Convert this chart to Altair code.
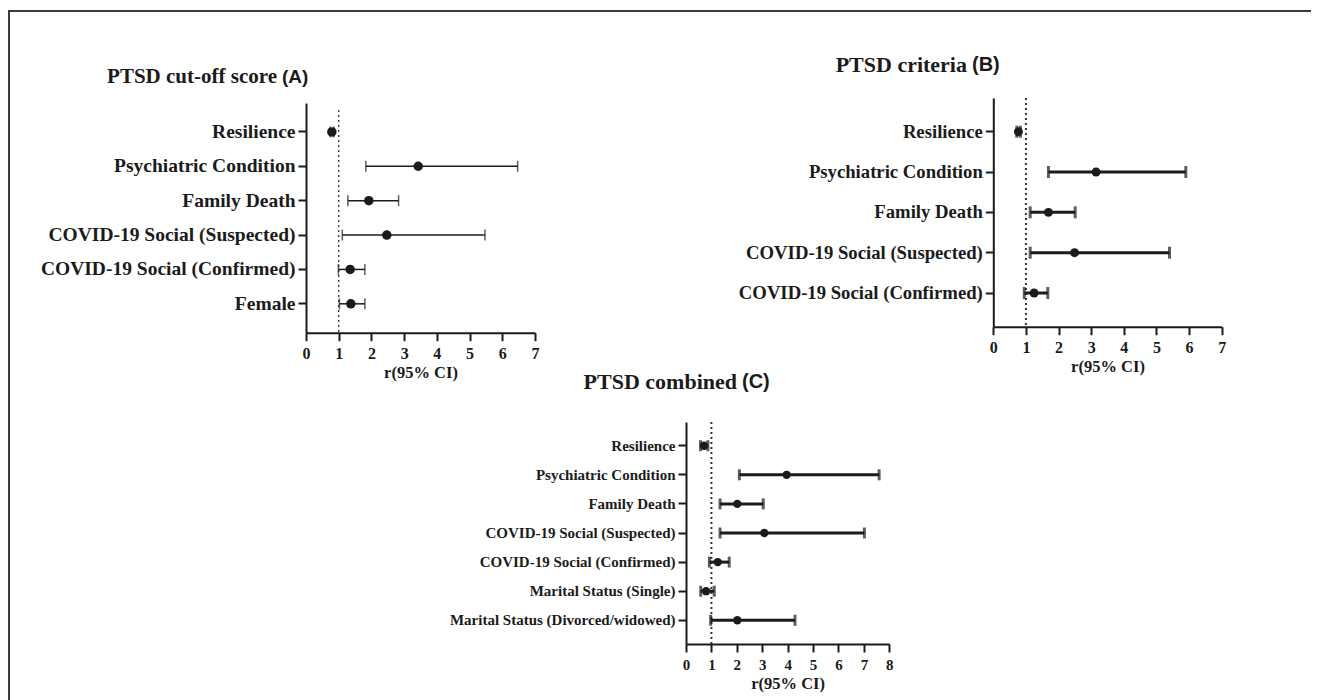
import altair as alt
import pandas as pd

# ---------------- data ----------------
a_labels = ["Resilience", "Psychiatric Condition", "Family Death",
            "COVID-19 Social (Suspected)", "COVID-19 Social (Confirmed)", "Female"]
a_or = [0.79, 3.43, 1.92, 2.47, 1.35, 1.37]
a_lo = [0.74, 1.83, 1.28, 1.11, 0.99, 1.02]
a_hi = [0.85, 6.47, 2.83, 5.47, 1.80, 1.80]

b_labels = ["Resilience", "Psychiatric Condition", "Family Death",
            "COVID-19 Social (Suspected)", "COVID-19 Social (Confirmed)"]
b_or = [0.77, 3.15, 1.69, 2.49, 1.25]
b_lo = [0.72, 1.69, 1.13, 1.13, 0.95]
b_hi = [0.83, 5.90, 2.51, 5.40, 1.67]

c_labels = ["Resilience", "Psychiatric Condition", "Family Death",
            "COVID-19 Social (Suspected)", "COVID-19 Social (Confirmed)",
            "Marital Status (Single)", "Marital Status (Divorced/widowed)"]
c_or = [0.71, 3.96, 2.02, 3.08, 1.25, 0.79, 2.02]
c_lo = [0.57, 2.10, 1.34, 1.34, 0.92, 0.58, 0.97]
c_hi = [0.86, 7.60, 3.04, 7.02, 1.70, 1.11, 4.29]

titles = ["PTSD cut-off score", "PTSD criteria", "PTSD combined"]
title_tags = ["(A)", "(B)", "(C)"]
x_title = "r(95% CI)"

SERIF = "Liberation Serif"
SANS = "Liberation Sans"
INK = "#1b1b1b"

W, H = 1303, 689

PAD_LABEL = "datum.label == 'Psychiatric Condition' ? datum.label + '\u00a0\u00a0' : datum.label"


def panel(labels, orv, lo, hi, xmax, xrange, yrange, ypad, x_off, y_off,
          label_size, tick_label_size, bar_w, cap, dot, dot_top, dash_w, pad_expr=None):
    df = pd.DataFrame({"label": labels, "or": orv, "lo": lo, "hi": hi})
    ref = pd.DataFrame({"ref": [1.0]})
    xscale = alt.Scale(domain=[0, xmax], range=xrange, nice=False, zero=True)
    xaxis = alt.Axis(orient="bottom", offset=x_off, values=list(range(xmax + 1)),
                     format="d", grid=False, labelFont=SERIF, labelFontWeight="bold",
                     labelFontSize=tick_label_size, labelColor=INK, labelPadding=5,
                     labelFlush=False, labelOverlap=False,
                     domainColor=INK, domainWidth=2, tickColor=INK, tickWidth=2,
                     tickSize=8, title=x_title, titleFont=SERIF, titleFontWeight="bold",
                     titleFontSize=16.5, titleColor=INK, titlePadding=3)
    yargs = dict(orient="left", offset=y_off, grid=False, title=None,
                 labelFont=SERIF, labelFontWeight="bold", labelFontSize=label_size,
                 labelColor=INK, labelPadding=3, labelLimit=500,
                 domainColor=INK, domainWidth=2, tickColor=INK, tickWidth=2,
                 tickSize=8)
    if pad_expr:
        yargs["labelExpr"] = pad_expr
    yaxis = alt.Axis(**yargs)
    yenc = alt.Y("label:N", sort=labels,
                 scale=alt.Scale(range=yrange, padding=ypad), axis=yaxis)
    base = alt.Chart(df)
    bars = base.mark_rule(color=INK, strokeWidth=bar_w).encode(
        x=alt.X("lo:Q", scale=xscale, axis=xaxis), x2="hi:Q", y=yenc)
    caps_lo = base.mark_tick(color=INK, thickness=bar_w, size=cap).encode(
        x=alt.X("lo:Q", scale=xscale, axis=xaxis), y=yenc)
    caps_hi = base.mark_tick(color=INK, thickness=bar_w, size=cap).encode(
        x=alt.X("hi:Q", scale=xscale, axis=xaxis), y=yenc)
    dots = base.mark_circle(color=INK, opacity=1, size=dot).encode(
        x=alt.X("or:Q", scale=xscale, axis=xaxis), y=yenc)
    refline = alt.Chart(ref).mark_rule(color="#333", strokeWidth=dash_w,
                                       strokeDash=[2, 3]).encode(
        x=alt.X("ref:Q", scale=xscale, axis=xaxis),
        y=alt.value(dot_top), y2=alt.value(yrange[1]))
    return alt.layer(refline, bars, caps_lo, caps_hi, dots)


def title_marks(i, x_split, y, size=22):
    d = pd.DataFrame({"t": [titles[i]], "tag": [title_tags[i]]})
    main = alt.Chart(d).mark_text(font=SERIF, fontWeight="bold", fontSize=size,
                                  align="right", baseline="middle", color=INK).encode(
        x=alt.value(x_split - 5), y=alt.value(y), text="t:N")
    tag = alt.Chart(d).mark_text(font=SANS, fontWeight="bold", fontSize=size - 2,
                                 align="left", baseline="middle", color=INK).encode(
        x=alt.value(x_split), y=alt.value(y), text="tag:N")
    return [main, tag]


frame_df = pd.DataFrame({"k": [0]})
frame_top = alt.Chart(frame_df).mark_rule(color="#3a3a3a", strokeWidth=2).encode(
    x=alt.value(0), x2=alt.value(W), y=alt.value(0))
frame_left = alt.Chart(frame_df).mark_rule(color="#3a3a3a", strokeWidth=2).encode(
    x=alt.value(1), y=alt.value(0), y2=alt.value(H))

pA = panel(a_labels, a_or, a_lo, a_hi, 7, [298, 527], [92, 321.7], 0.68,
           321.7 - H, -298, 19.5, 16, 1.5, 11, 90, 99, 1.3, PAD_LABEL)
pB = panel(b_labels, b_or, b_lo, b_hi, 7, [985.3, 1213.7], [87, 315.7], 0.67,
           315.7 - H, -985.3, 18.7, 16, 3, 12, 80, 87, 2, PAD_LABEL)
pC = panel(c_labels, c_or, c_lo, c_hi, 8, [678, 881.3], [411, 633], 0.63,
           633 - H, -678, 15, 15, 3, 11, 70, 411, 2)

layers = [frame_top, frame_left]
layers += title_marks(0, 274, 66, 21)
layers += title_marks(1, 964, 54)
layers += title_marks(2, 734, 371)
layers += [pA, pB, pC]

chart = alt.layer(*layers).resolve_scale(
    x="independent", y="independent").resolve_axis(
    x="independent", y="independent").properties(
    width=W, height=H, autosize="none",
    padding={"left": 0, "top": 3, "right": 0, "bottom": 0}
).configure_view(stroke=None)

chart.save("out.html", embed_options={"renderer": "svg", "actions": False})
